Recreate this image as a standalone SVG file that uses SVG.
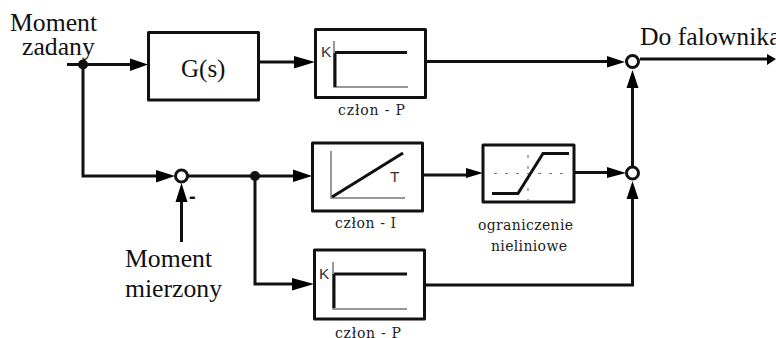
<svg xmlns="http://www.w3.org/2000/svg" width="776" height="338" viewBox="0 0 776 338">
<style>
.b{fill:#fff;stroke:#111;stroke-width:3;stroke-linejoin:round}
.c{fill:none;stroke:#111;stroke-width:3}
.t{fill:none;stroke:#111;stroke-width:3}
.th{fill:none;stroke:#777;stroke-width:1.5}
.d{fill:none;stroke:#777;stroke-width:1.2;stroke-dasharray:3 8}
.s{fill:#fff;stroke:#111;stroke-width:3}
.j{fill:#111}
.a{fill:#000}
text{font-family:"Liberation Serif","Times New Roman",serif;fill:#111}
.l{font-size:25.700px}
.m{font-family:"DejaVu Serif",serif;font-size:14px;fill:#222}
.sans{font-family:"Liberation Sans",Arial,sans-serif;font-size:15.500px;fill:#333}
</style>
<rect width="776" height="338" fill="#fff"/>
<g id="connectors">
<path class="c" d="M67 64.500H133M83 64V176H160M258 62H300M425 61.500H612M640 59H770M187 176H297M255 176V284H298M422 175H470M574 172.500H612M424 285H632.500V186M632.500 167V84"/>
<path class="c" d="M181.500 242V198"/>
<path class="a" d="M148 64.500L130 58.500V71ZM315 62L294 56V68.500ZM625 62L607 56V67.500ZM776 59L767 54V65ZM175 176L156 170V182.500ZM312 176L293 169.500V182ZM314 284L292 278V290.500ZM483 173L466 168V178ZM626 173L607 167V178ZM632.500 70L626.500 88H638.500ZM632.500 181L626.500 199H638.500ZM181.500 183L175.500 202H187.500Z"/>
<circle class="j" cx="83" cy="64.500" r="5"/>
<circle class="j" cx="255" cy="176" r="5"/>
<circle class="s" cx="181.500" cy="176" r="6"/>
<circle class="s" cx="632.500" cy="61.500" r="6"/>
<circle class="s" cx="632.500" cy="173" r="6"/>
</g>
<g id="input-label"><text class="l" x="10" y="31">Moment</text><text class="l" x="22" y="55">zadany</text></g>
<g id="measured-label"><text class="l" x="125" y="267">Moment</text><text class="l" x="125" y="297">mierzony</text><text x="189" y="203" font-size="20" font-weight="bold" style="font-family:'Liberation Sans',sans-serif">-</text></g>
<g id="output-label"><text class="l" x="640" y="45">Do falownika</text></g>
<g id="gs"><rect class="b" x="148.500" y="32.500" width="110" height="67.500"/><text x="181" y="77" font-size="25">G(s)</text></g>
<g id="p1"><rect class="b" x="315.500" y="29.500" width="110" height="68"/>
<text class="sans" x="321" y="57">K</text>
<path class="th" d="M334 41V87H408"/><path class="t" d="M335 52.500H407M335 53V87"/>
<text class="m" x="338" y="115" textLength="67">człon -  P</text></g>
<g id="i"><rect class="b" x="312.500" y="143" width="110" height="68"/>
<path class="th" d="M331 151V198H405"/><path class="t" d="M332 197L403 153"/>
<text class="sans" x="390" y="182">T</text>
<text class="m" x="335" y="228" textLength="61">człon - I</text></g>
<g id="limit"><rect class="b" x="483" y="145" width="91" height="57"/>
<path class="d" d="M494 173.500H568M528 155V200"/>
<path class="t" d="M492 193.500H518L543 153.500H569"/>
<text class="m" x="478" y="230" textLength="95">ograniczenie</text><text class="m" x="491" y="251" textLength="76">nieliniowe</text></g>
<g id="p2"><rect class="b" x="314.500" y="250" width="110" height="69"/>
<text class="sans" x="319" y="279">K</text>
<path class="th" d="M333 262V309H407"/><path class="t" d="M334 274H407M334 274V308"/>
<text class="m" x="335" y="338" textLength="66">człon -  P</text></g>
</svg>
